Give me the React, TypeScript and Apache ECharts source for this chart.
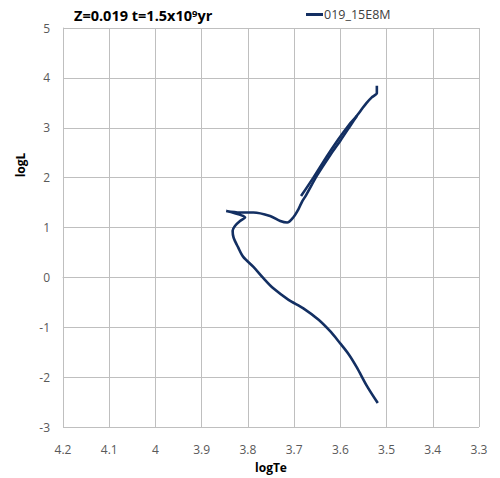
import React, { useEffect, useRef } from "react";
import * as echarts from "echarts";

// Isochrone Z=0.019, t=1.5 Gyr : main sequence -> turnoff hook -> subgiant -> RGB
const trackLogTe = [
  3.519, 3.543, 3.564, 3.582, 3.604, 3.622, 3.647, 3.68, 3.712, 3.745, 3.766,
  3.788, 3.81, 3.821, 3.831, 3.833, 3.828, 3.817, 3.806, 3.847, 3.817, 3.788,
  3.752, 3.73, 3.715, 3.702, 3.691, 3.683, 3.674, 3.65, 3.622, 3.6, 3.577, 3.564,
];
const trackLogL = [
  -2.52, -2.17, -1.81, -1.54, -1.28, -1.08, -0.85, -0.62, -0.45, -0.22, -0.02,
  0.21, 0.41, 0.6, 0.8, 0.935, 1.03, 1.13, 1.2, 1.33, 1.3, 1.3, 1.23, 1.13, 1.1,
  1.2, 1.36, 1.515, 1.65, 2.05, 2.45, 2.74, 3.06, 3.24,
];
// Clump / AGB part
const agbLogTe = [3.685, 3.659, 3.629, 3.605, 3.581, 3.566, 3.553, 3.544, 3.532, 3.521, 3.521];
const agbLogL = [1.63, 1.99, 2.43, 2.76, 3.06, 3.22, 3.38, 3.49, 3.61, 3.69, 3.84];

const seriesName = "019_15E8M";
const xTicks = { min: 3.3, max: 4.2, step: 0.1 };
const yTicks = { min: -3, max: 5, step: 1 };

const LINE_COLOR = "#132f62";
const FONT = "'Open Sans', 'Noto Sans', sans-serif";

export default function App() {
  const ref = useRef<HTMLDivElement>(null);
  useEffect(() => {
    if (!ref.current) return;
    const chart = echarts.init(ref.current, undefined, { renderer: "svg" });
    const track = trackLogTe.map((x, i) => [x, trackLogL[i]]);
    const agb = agbLogTe.map((x, i) => [x, agbLogL[i]]);
    const lineStyle = { color: LINE_COLOR, width: 2.6 };
    chart.setOption({
      animation: false,
      backgroundColor: "#ffffff",
      title: {
        text: "{a|Z=0.019 t=1.5x10}{b|9}{a|yr}",
        left: 69,
        top: 1,
        textStyle: {
          rich: {
            a: { fontFamily: FONT, fontWeight: "bold", fontSize: 14.5, color: "#000", lineHeight: 17, verticalAlign: "bottom" },
            b: { fontFamily: FONT, fontWeight: "bold", fontSize: 9.5, color: "#000", lineHeight: 17, verticalAlign: "top", padding: [2, 0, 0, 0] },
          },
        },
      },
      legend: {
        data: [seriesName],
        left: 301,
        top: 3,
        itemWidth: 17,
        itemHeight: 3,
        itemGap: 4,
        icon: "rect",
        textStyle: { fontFamily: FONT, fontSize: 12.5, color: "#404040", padding: [0, 0, 0, -4] },
      },
      grid: { left: 63, right: 21, top: 28, bottom: 46, containLabel: false },
      graphic: [
        {
          type: "text",
          x: 20,
          y: 165,
          rotation: Math.PI / 2,
          style: {
            text: "logL",
            font: `bold 12px ${FONT}`,
            fill: "#000",
            align: "center",
            verticalAlign: "middle",
          },
        },
      ],
      xAxis: {
        type: "value",
        min: xTicks.min,
        max: xTicks.max,
        interval: xTicks.step,
        inverse: true,
        name: "logTe",
        nameLocation: "middle",
        nameGap: 34,
        nameTextStyle: { fontFamily: FONT, fontWeight: "bold", fontSize: 12, color: "#000" },
        axisLine: { show: true, lineStyle: { color: "#bfbfbf" } },
        axisTick: { show: false },
        axisLabel: {
          fontFamily: FONT,
          fontSize: 12,
          color: "#595959",
          margin: 16,
          formatter: (v: number) => String(Math.round(v * 10) / 10),
        },
        splitLine: { show: true, lineStyle: { color: "#bfbfbf", width: 1 } },
      },
      yAxis: {
        type: "value",
        min: yTicks.min,
        max: yTicks.max,
        interval: yTicks.step,
        axisLine: { show: true, lineStyle: { color: "#bfbfbf" } },
        axisTick: { show: false },
        axisLabel: { fontFamily: FONT, fontSize: 12, color: "#595959", margin: 13 },
        splitLine: { show: true, lineStyle: { color: "#bfbfbf", width: 1 } },
      },
      series: [
        {
          name: seriesName,
          type: "line",
          data: track,
          showSymbol: false,
          smooth: 0.3,
          lineStyle,
          itemStyle: { color: LINE_COLOR },
        },
        {
          name: seriesName,
          type: "line",
          data: agb,
          showSymbol: false,
          smooth: 0.2,
          lineStyle,
          itemStyle: { color: LINE_COLOR },
        },
      ],
    });
    return () => chart.dispose();
  }, []);
  return (
    <div
      ref={ref}
      style={{ position: "fixed", left: 0, top: 0, width: 500, height: 478, background: "#fff" }}
    />
  );
}
